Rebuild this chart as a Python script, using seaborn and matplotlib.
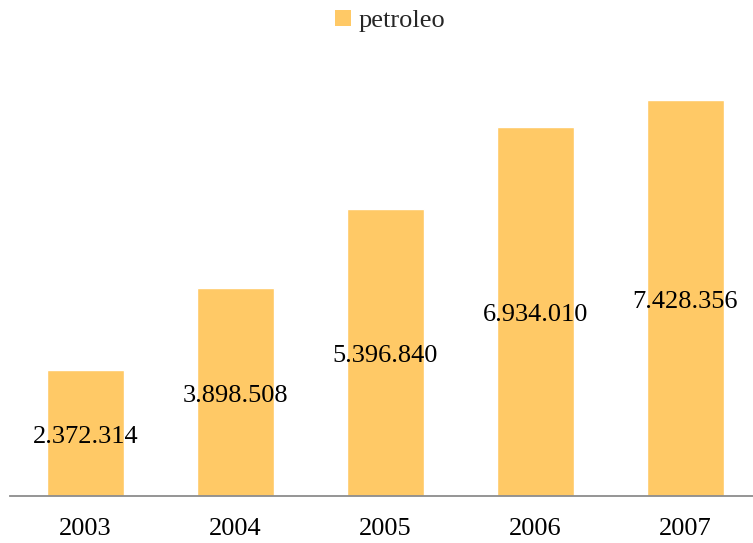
import matplotlib
matplotlib.use("Agg")
import matplotlib.pyplot as plt
import seaborn as sns
import pandas as pd
from matplotlib.patches import Patch

years = ["2003", "2004", "2005", "2006", "2007"]
values = [2372314, 3898508, 5396840, 6934010, 7428356]
labels = ["2.372.314", "3.898.508", "5.396.840", "6.934.010", "7.428.356"]
series_name = "petroleo"
bar_color = "#FFC966"

sns.set_theme(style="white")
plt.rcParams["font.family"] = ["Liberation Serif", "DejaVu Serif"]

W, H = 753, 543
fig = plt.figure(figsize=(W / 100, H / 100), dpi=100)
left, right, top, bottom = 10, 753, 60, 496
ax = fig.add_axes([left / W, (H - bottom) / H, (right - left) / W, (bottom - top) / H])

df = pd.DataFrame({"year": years, "value": values})
sns.barplot(data=df, x="year", y="value", color=bar_color, saturation=1,
            width=0.513, ax=ax)

px_per_million = 53.25
ax.set_ylim(0, (bottom - top) / px_per_million * 1e6)
ax.set_xlim(-0.503, -0.503 + (right - left) / 150)

for i, (v, lab) in enumerate(zip(values, labels)):
    ax.annotate(lab, xy=(i, v / 2), xytext=(0, -4), textcoords="offset pixels",
                ha="center", va="center", fontsize=19, color="black")

for s in ["top", "right", "left"]:
    ax.spines[s].set_visible(False)
ax.spines["bottom"].set_color("#8C8C8C")
ax.spines["bottom"].set_linewidth(1.3)
ax.set_yticks([])
ax.set_xlabel("")
ax.set_ylabel("")
ax.tick_params(axis="x", length=0, pad=16, labelsize=19, labelcolor="black")

handle = Patch(facecolor=bar_color, edgecolor="none")
fig.legend([handle], [series_name], loc="center", bbox_to_anchor=(390 / W, 1 - 21 / H),
           frameon=False, fontsize=19, handlelength=0.6, handleheight=0.6,
           handletextpad=0.3, borderpad=0)

fig.savefig("out.png", dpi=100)
